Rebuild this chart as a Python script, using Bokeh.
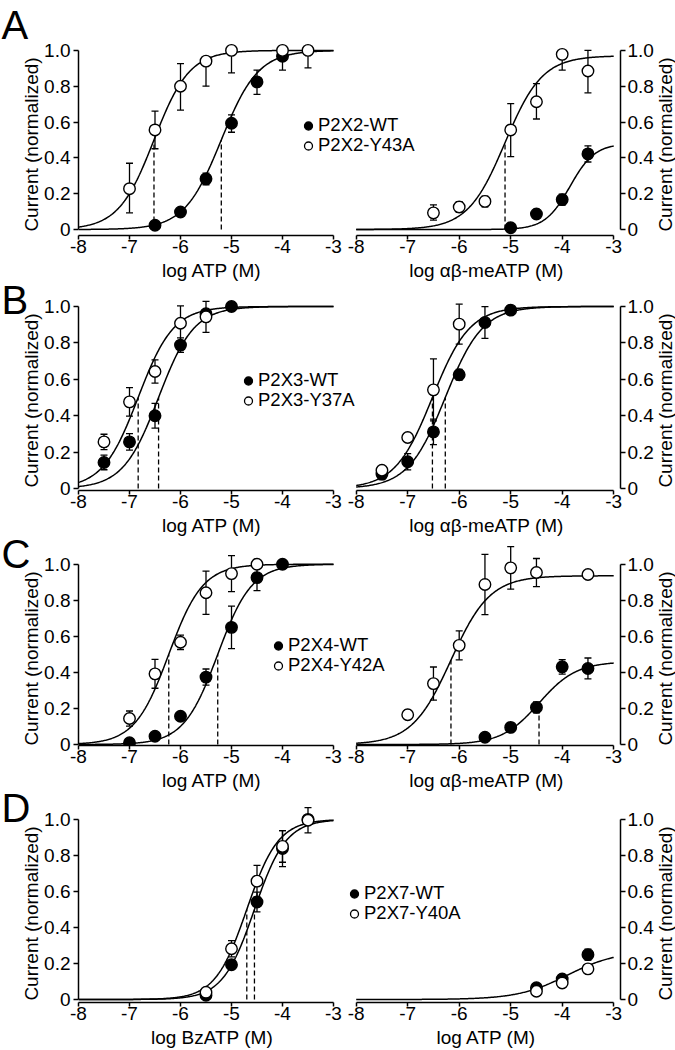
import math
import numpy as np
from bokeh.plotting import figure
from bokeh.models import (Range1d, FixedTicker, Whisker, TeeHead, ColumnDataSource,
                          Legend, LegendItem, Label)
from bokeh.layouts import column, row
from bokeh.embed import file_html
from bokeh.resources import INLINE

# ---------------- data ----------------
X_TICKS = [-8, -7, -6, -5, -4, -3]
X_TICK_TEXT = ["-8", "-7", "-6", "-5", "-4", "-3"]
Y_TICKS = [0, 0.2, 0.4, 0.6, 0.8, 1.0]
Y_TICK_TEXT = ["0", "0.2", "0.4", "0.6", "0.8", "1.0"]
Y_LABEL = "Current (normalized)"
PANEL_LETTERS = ["A", "B", "C", "D"]
LEFT_XLABELS = ["log ATP (M)", "log ATP (M)", "log ATP (M)", "log BzATP (M)"]
RIGHT_XLABELS = ["log αβ-meATP (M)", "log αβ-meATP (M)", "log αβ-meATP (M)", "log ATP (M)"]
WT_LABELS = ["P2X2-WT", "P2X3-WT", "P2X4-WT", "P2X7-WT"]
MUT_LABELS = ["P2X2-Y43A", "P2X3-Y37A", "P2X4-Y42A", "P2X7-Y40A"]

# Panel A left (ATP)
a1_wt_x = [-6.5, -6.0, -5.5, -5.0, -4.5, -4.0]
a1_wt_y = [0.024, 0.098, 0.283, 0.593, 0.824, 0.967]
a1_wt_lo = [0.01, 0.01, 0.033, 0.05, 0.07, 0.077]
a1_wt_hi = [0.01, 0.01, 0.032, 0.047, 0.066, 0.0]
a1_mut_x = [-7.0, -6.5, -6.0, -5.5, -5.0, -4.0, -3.5]
a1_mut_y = [0.228, 0.556, 0.80, 0.94, 1.0, 1.0, 1.0]
a1_mut_lo = [0.135, 0.105, 0.133, 0.14, 0.126, 0.0, 0.098]
a1_mut_hi = [0.142, 0.105, 0.126, 0.0, 0.0, 0.0, 0.0]
a1_wt_fit = [-5.2, 1.2, 1.0]      # [logEC50, Hill slope, max]
a1_mut_fit = [-6.52, 1.25, 1.0]

# Panel A right (alpha-beta-meATP)
a2_wt_x = [-5.0, -4.5, -4.0, -3.5]
a2_wt_y = [0.01, 0.087, 0.167, 0.422]
a2_wt_lo = [0.0, 0.025, 0.03, 0.045]
a2_wt_hi = [0.0, 0.025, 0.03, 0.045]
a2_mut_x = [-6.5, -6.0, -5.5, -5.0, -4.5, -4.0, -3.5]
a2_mut_y = [0.093, 0.126, 0.157, 0.556, 0.713, 0.978, 0.885]
a2_mut_lo = [0.04, 0.03, 0.03, 0.149, 0.096, 0.088, 0.122]
a2_mut_hi = [0.045, 0.03, 0.03, 0.147, 0.102, 0.02, 0.115]
a2_wt_fit = [-3.85, 1.8, 0.48]
a2_mut_fit = [-5.11, 1.2, 0.97]

# Panel B left (ATP)
b1_wt_x = [-7.5, -7.0, -6.5, -6.0, -5.5, -5.0]
b1_wt_y = [0.143, 0.256, 0.40, 0.788, 0.96, 1.0]
b1_wt_err = [0.04, 0.045, 0.068, 0.04, 0.0, 0.0]
b1_mut_x = [-7.5, -7.0, -6.5, -6.0, -5.5]
b1_mut_y = [0.256, 0.476, 0.643, 0.908, 0.943]
b1_mut_err = [0.042, 0.078, 0.064, 0.095, 0.085]
b1_wt_fit = [-6.43, 1.25, 1.0]
b1_mut_fit = [-6.83, 1.25, 1.0]

# Panel B right (alpha-beta-meATP)
b2_wt_x = [-7.5, -7.0, -6.5, -6.0, -5.5, -5.0]
b2_wt_y = [0.079, 0.147, 0.311, 0.625, 0.912, 0.98]
b2_wt_err = [0.03, 0.045, 0.07, 0.03, 0.087, 0.0]
b2_mut_x = [-7.5, -7.0, -6.5, -6.0]
b2_mut_y = [0.10, 0.28, 0.542, 0.903]
b2_mut_err = [0.02, 0.02, 0.17, 0.11]
b2_wt_fit = [-6.27, 1.2, 1.0]
b2_mut_fit = [-6.52, 1.2, 1.0]

# Panel C left (ATP)
c1_wt_x = [-7.0, -6.5, -6.0, -5.5, -5.0, -4.5, -4.0]
c1_wt_y = [0.01, 0.046, 0.157, 0.374, 0.65, 0.926, 1.0]
c1_wt_err = [0.0, 0.0, 0.0, 0.045, 0.118, 0.072, 0.0]
c1_mut_x = [-7.0, -6.5, -6.0, -5.5, -5.0, -4.5]
c1_mut_y = [0.144, 0.392, 0.567, 0.842, 0.948, 1.0]
c1_mut_err = [0.042, 0.08, 0.04, 0.12, 0.1, 0.0]
c1_wt_fit = [-5.27, 1.3, 1.0]
c1_mut_fit = [-6.23, 1.3, 1.0]

# Panel C right (alpha-beta-meATP)
c2_wt_x = [-5.5, -5.0, -4.5, -4.0, -3.5]
c2_wt_y = [0.04, 0.095, 0.206, 0.431, 0.422]
c2_wt_err = [0.0, 0.025, 0.03, 0.04, 0.058]
c2_mut_x = [-7.0, -6.5, -6.0, -5.5, -5.0, -4.5, -3.5]
c2_mut_y = [0.165, 0.338, 0.55, 0.888, 0.98, 0.954, 0.943]
c2_mut_err = [0.025, 0.092, 0.08, 0.167, 0.118, 0.078, 0.0]
c2_wt_fit = [-4.45, 1.2, 0.46]
c2_mut_fit = [-6.16, 1.15, 0.936]

# Panel D left (BzATP)
d1_wt_x = [-5.5, -5.0, -4.5, -4.0, -3.5]
d1_wt_y = [0.024, 0.193, 0.541, 0.838, 1.0]
d1_wt_err = [0.0, 0.02, 0.055, 0.1, 0.0]
d1_mut_x = [-5.5, -5.0, -4.5, -4.0, -3.5]
d1_mut_y = [0.04, 0.282, 0.657, 0.85, 0.995]
d1_mut_err = [0.0, 0.045, 0.088, 0.088, 0.07]
d1_wt_fit = [-4.55, 1.4, 1.0]
d1_mut_fit = [-4.70, 1.4, 1.0]

# Panel D right (ATP)
d2_wt_x = [-4.5, -4.0, -3.5]
d2_wt_y = [0.065, 0.114, 0.249]
d2_wt_err = [0.0, 0.02, 0.03]
d2_mut_x = [-4.5, -4.0, -3.5]
d2_mut_y = [0.046, 0.092, 0.17]
d2_mut_err = [0.0, 0.025, 0.0]
d2_fit = [-3.9, 0.9, 0.27]

# ---------------- styling / geometry ----------------
FONT = "Liberation Sans"
FS = "19px"
LEG_FS = "18.5px"
PAGE_W, PAGE_H = 675, 1050
# per row: figure height, top border, bottom border, y-range
ROWS = [
    (283, 27, 47, (-6 / 180, 203 / 180)),
    (255, 0, 48, (-2 / 182, 205 / 182)),
    (255, 0, 46, (-1 / 182, 208 / 182)),
    (257, 0, 47, (-3 / 181, 207 / 181)),
]
LEFT_W, LEFT_BL = 345, 78
LEFT_PPU = 51.0
RIGHT_W, RIGHT_BL, RIGHT_BR = 345, 22, 55
RIGHT_PPU = 51.5
RIGHT_OVERLAP = 15
# overlay text positions (page pixels, text centres)
LETTER_X = 1
LETTER_CY = [24, 299, 553, 807]
YLAB_LEFT_X = 31
YLAB_RIGHT_X = 665
YLAB_CY = [144, 400, 658, 913]
# legend marker centres (wt, mutant) per row
LEGEND_MARKS = [((308, 125.5), (308, 145.5)), ((248, 380.5), (248, 400.5)),
                ((278, 645.5), (278, 665.5)), ((354, 893.5), (354, 913.5))]
LEG_GLYPH_W, LEG_ROW_H = 20, 21

XS = np.linspace(-8, -3, 301)


def hill(x, fit):
    ec, n, top = fit
    return top / (1.0 + 10.0 ** (n * (ec - x)))


def make_fig(side, rowgeom, xlabel):
    h, bt, bb, yr = rowgeom
    if side == "left":
        w, bl, br, ppu = LEFT_W, LEFT_BL, 0, LEFT_PPU
        x0 = -8.0
    else:
        w, bl, br, ppu = RIGHT_W, RIGHT_BL, RIGHT_BR, RIGHT_PPU
        x0 = -8.0 - 3.7 / RIGHT_PPU
    fw = w - bl - br
    p = figure(width=w, height=h, output_backend="svg", toolbar_location=None,
               x_range=Range1d(x0, x0 + fw / ppu), y_range=Range1d(*yr),
               y_axis_location=side, min_border_left=bl, min_border_right=br,
               min_border_top=bt, min_border_bottom=bb,
               background_fill_alpha=0, border_fill_alpha=0, outline_line_color=None)
    p.grid.visible = False
    xa, ya = p.xaxis[0], p.yaxis[0]
    xa.ticker = FixedTicker(ticks=X_TICKS)
    xa.bounds = (-8, -3)
    xa.major_label_overrides = dict(zip(X_TICKS, X_TICK_TEXT))
    ya.ticker = FixedTicker(ticks=Y_TICKS)
    ya.bounds = (0, 1)
    ya.major_label_overrides = dict(zip(Y_TICKS, Y_TICK_TEXT))
    for ax in (xa, ya):
        ax.minor_tick_line_color = None
        ax.major_tick_in = 0
        ax.axis_line_width = 1.5
        ax.axis_line_color = "black"
        ax.major_tick_line_width = 1.5
        ax.major_tick_line_color = "black"
        ax.major_label_text_font = FONT
        ax.major_label_text_font_size = FS
        ax.major_label_text_color = "black"
        ax.axis_label_text_font = FONT
        ax.axis_label_text_font_size = FS
        ax.axis_label_text_font_style = "normal"
        ax.axis_label_text_color = "black"
    xa.axis_label = xlabel
    xa.major_tick_out = 4
    xa.major_label_standoff = 0
    xa.axis_label_standoff = 4
    ya.major_tick_out = 5
    ya.major_label_standoff = 3 if side == "left" else 2
    return p


def add_curve(p, fit, dashed):
    p.line(XS, hill(XS, fit), line_color="black", line_width=1.5)
    if dashed:
        p.segment(x0=[fit[0]], y0=[0.0], x1=[fit[0]], y1=[fit[2] / 2.0],
                  line_color="black", line_width=1.3, line_dash="5 3")


def add_series(p, x, y, lo, hi, filled):
    src = ColumnDataSource(dict(
        x=x, y=y,
        lower=[a - b for a, b in zip(y, lo)],
        upper=[a + b for a, b in zip(y, hi)],
    ))
    wh = Whisker(source=src, base="x", lower="lower", upper="upper", dimension="height",
                 line_color="black", line_width=1.3, level="underlay",
                 lower_head=TeeHead(size=7, line_width=1.3, line_color="black"),
                 upper_head=TeeHead(size=7, line_width=1.3, line_color="black"))
    p.add_layout(wh)
    return p.scatter("x", "y", source=src, marker="circle", size=11.5,
                     line_color="black", line_width=1.4,
                     fill_color="black" if filled else "white")


panels = [
    dict(
        L=[(a1_wt_x, a1_wt_y, a1_wt_lo, a1_wt_hi), (a1_mut_x, a1_mut_y, a1_mut_lo, a1_mut_hi)],
        Lfits=[(a1_wt_fit, True), (a1_mut_fit, True)],
        R=[(a2_wt_x, a2_wt_y, a2_wt_lo, a2_wt_hi), (a2_mut_x, a2_mut_y, a2_mut_lo, a2_mut_hi)],
        Rfits=[(a2_wt_fit, False), (a2_mut_fit, True)],
    ),
    dict(
        L=[(b1_wt_x, b1_wt_y, b1_wt_err, b1_wt_err), (b1_mut_x, b1_mut_y, b1_mut_err, b1_mut_err)],
        Lfits=[(b1_wt_fit, True), (b1_mut_fit, True)],
        R=[(b2_wt_x, b2_wt_y, b2_wt_err, b2_wt_err), (b2_mut_x, b2_mut_y, b2_mut_err, b2_mut_err)],
        Rfits=[(b2_wt_fit, True), (b2_mut_fit, True)],
    ),
    dict(
        L=[(c1_wt_x, c1_wt_y, c1_wt_err, c1_wt_err), (c1_mut_x, c1_mut_y, c1_mut_err, c1_mut_err)],
        Lfits=[(c1_wt_fit, True), (c1_mut_fit, True)],
        R=[(c2_wt_x, c2_wt_y, c2_wt_err, c2_wt_err), (c2_mut_x, c2_mut_y, c2_mut_err, c2_mut_err)],
        Rfits=[(c2_wt_fit, True), (c2_mut_fit, True)],
    ),
    dict(
        L=[(d1_wt_x, d1_wt_y, d1_wt_err, d1_wt_err), (d1_mut_x, d1_mut_y, d1_mut_err, d1_mut_err)],
        Lfits=[(d1_wt_fit, True), (d1_mut_fit, True)],
        R=[(d2_wt_x, d2_wt_y, d2_wt_err, d2_wt_err), (d2_mut_x, d2_mut_y, d2_mut_err, d2_mut_err)],
        Rfits=[(d2_fit, False)],
    ),
]

rows = []
for i, pan in enumerate(panels):
    pl = make_fig("left", ROWS[i], LEFT_XLABELS[i])
    pr = make_fig("right", ROWS[i], RIGHT_XLABELS[i])
    pr.margin = (0, 0, 0, -RIGHT_OVERLAP)
    for p, key, fkey in ((pl, "L", "Lfits"), (pr, "R", "Rfits")):
        for fit, dashed in pan[fkey]:
            add_curve(p, fit, dashed)
        (wx, wy, wlo, whi), (mx, my, mlo, mhi) = pan[key]
        add_series(p, wx, wy, wlo, whi, True)
        add_series(p, mx, my, mlo, mhi, False)
    rows.append(row(pl, pr))

# ---- overlay: panel letters, y-axis titles, legends ----
ov = figure(width=PAGE_W, height=PAGE_H, output_backend="svg", toolbar_location=None,
            x_range=Range1d(0, PAGE_W), y_range=Range1d(PAGE_H, 0),
            x_axis_type=None, y_axis_type=None, min_border=0,
            background_fill_alpha=0, border_fill_alpha=0, outline_line_color=None)
ov.margin = (-PAGE_H, 0, 0, 0)

# legend proxy glyphs (no visible points of their own)
proxy_src = ColumnDataSource(dict(x=np.array([np.nan]), y=np.array([np.nan])))
proxy_wt = ov.scatter("x", "y", source=proxy_src, marker="circle", size=11,
                      line_color="black", line_width=1.3, fill_color="black")
proxy_mut = ov.scatter("x", "y", source=proxy_src, marker="circle", size=11,
                       line_color="black", line_width=1.3, fill_color="white")

for i in range(4):
    ov.add_layout(Label(x=LETTER_X, y=LETTER_CY[i], text=PANEL_LETTERS[i],
                        text_font=FONT, text_font_size="40px", text_color="black",
                        text_align="left", text_baseline="middle"))
    for xpos in (YLAB_LEFT_X, YLAB_RIGHT_X):
        ov.add_layout(Label(x=xpos, y=YLAB_CY[i], text=Y_LABEL, angle=math.pi / 2,
                            text_font=FONT, text_font_size=FS, text_color="black",
                            text_align="center", text_baseline="middle"))
    for (cx, cy), lab, prx in zip(LEGEND_MARKS[i], (WT_LABELS[i], MUT_LABELS[i]),
                                  (proxy_wt, proxy_mut)):
        leg = Legend(items=[LegendItem(label=lab, renderers=[prx])],
                     location=(cx - LEG_GLYPH_W / 2, PAGE_H - (cy + LEG_ROW_H / 2)),
                     orientation="vertical", padding=0, margin=0, spacing=0,
                     glyph_width=LEG_GLYPH_W, glyph_height=LEG_ROW_H,
                     label_height=LEG_ROW_H, label_standoff=0,
                     label_text_font=FONT, label_text_font_size=LEG_FS,
                     label_text_color="black", border_line_color=None,
                     background_fill_alpha=0)
        ov.add_layout(leg)

layout = column(*rows, ov)
open("out.html", "w").write(file_html(layout, INLINE))
